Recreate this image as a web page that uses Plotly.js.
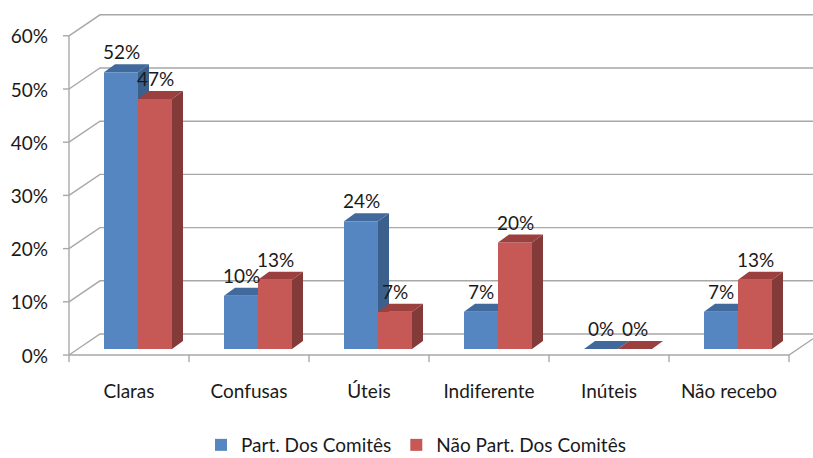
<!DOCTYPE html>
<html><head><meta charset="utf-8">
<script src="https://cdn.plot.ly/plotly-3.0.1.min.js"></script>
<style>html,body{margin:0;padding:0;background:#fff}#chart{width:813px;height:458px}</style>
</head><body><div id="chart"></div>
<script>
// ---- data ----
const categories = ['Claras', 'Confusas', 'Úteis', 'Indiferente', 'Inúteis', 'Não recebo'];
const seriesNames = ['Part. Dos Comitês', 'Não Part. Dos Comitês'];
const partValues = [0.52, 0.10, 0.24, 0.07, 0.00, 0.07];
const naoPartValues = [0.47, 0.13, 0.07, 0.20, 0.00, 0.13];
const yTickVals = [0, 0.1, 0.2, 0.3, 0.4, 0.5, 0.6];
const yTickText = ['0%', '10%', '20%', '30%', '40%', '50%', '60%'];

// ---- geometry (pixel -> data unit conversion) ----
const W = 813, H = 458;
const mL = 60, mB = 94;
const pxX = 120;            // px per category
const pxY = 532;            // px per 1.0 (100%)
const x0px = 138;           // pixel of category 0 centre (bar plane)
const y0px = 349;           // pixel of value 0 (bar plane)
const xRange = [(mL - x0px) / pxX, (W - x0px) / pxX];
const yRange = [-((H - mB) - y0px) / pxY, y0px / pxY];
const BW = 34 / pxX;        // bar width
const DX = 11 / pxX, DY = 8 / pxY;    // bar depth
const FX = -9 / pxX, FY = -6 / pxY;   // front plane offset
const BX = 22 / pxX, BY = 15 / pxY;   // back wall offset
const AX = -0.5;                       // left wall position
const FONT = 'Lato, Carlito, sans-serif';
const FS = 19;

const colors = {
  blue: {front: '#5586C2', top: '#42699B', side: '#3C608C'},
  red: {front: '#C65956', top: '#9B403E', side: '#833A38'}
};
const gridColor = '#A8A8A8';

function path(pts) { return 'M' + pts.map(p => p[0] + ',' + p[1]).join('L') + 'Z'; }
function line(pts) { return 'M' + pts.map(p => p[0] + ',' + p[1]).join('L'); }

const shapes = [];
// back wall gridlines with diagonal side wall lines
yTickVals.forEach(v => {
  shapes.push({type: 'path', xref: 'x', yref: 'y', layer: 'below',
    path: line([[AX + FX, v + FY], [AX + BX, v + BY], [xRange[1] + 1, v + BY]]),
    line: {color: gridColor, width: 1.4}});
  // y tick marks
  shapes.push({type: 'path', xref: 'x', yref: 'y', layer: 'below',
    path: line([[AX + FX - 6 / pxX, v + FY], [AX + FX, v + FY]]),
    line: {color: gridColor, width: 1.4}});
});
// front vertical axis
shapes.push({type: 'path', xref: 'x', yref: 'y', layer: 'below',
  path: line([[AX + FX, FY], [AX + FX, yTickVals[yTickVals.length - 1] + FY]]),
  line: {color: gridColor, width: 1.4}});
// floor front edge and right edge
const nC = categories.length;
shapes.push({type: 'path', xref: 'x', yref: 'y', layer: 'below',
  path: line([[AX + FX, FY], [AX + nC + FX, FY], [AX + nC + BX, BY]]),
  line: {color: gridColor, width: 1.4}});
for (let k = 0; k <= nC; k++) {
  shapes.push({type: 'path', xref: 'x', yref: 'y', layer: 'below',
    path: line([[AX + k + FX, FY], [AX + k + FX, FY - 7 / pxY]]),
    line: {color: gridColor, width: 1.4}});
}

// 3D faces
function faces(vals, sideOff, c, layer) {
  vals.forEach((v, i) => {
    const xa = i + sideOff, xb = xa + BW;
    shapes.push({type: 'path', xref: 'x', yref: 'y', layer: layer,
      path: path([[xb, 0], [xb, v], [xb + DX, v + DY], [xb + DX, DY]]),
      fillcolor: c.side, line: {width: 0}});
    shapes.push({type: 'path', xref: 'x', yref: 'y', layer: layer,
      path: path([[xa, v], [xb, v], [xb + DX, v + DY], [xa + DX, v + DY]]),
      fillcolor: c.top, line: {width: 0}});
  });
}
faces(partValues, -BW, colors.blue, 'below');
faces(naoPartValues, 0, colors.red, 'above');

// value labels
const annotations = [];
function labels(vals, off) {
  vals.forEach((v, i) => {
    annotations.push({x: i + off, y: v, xref: 'x', yref: 'y', text: Math.round(v * 100) + '%',
      showarrow: false, yanchor: 'bottom', yshift: 7,
      font: {family: FONT, size: FS, color: '#1a1a1a'}});
  });
}
labels(partValues, -BW / 2);
labels(naoPartValues, BW / 2);

const traces = [
  {type: 'bar', name: seriesNames[0], x: categories, y: partValues,
   marker: {color: colors.blue.front, line: {width: 0}}, hoverinfo: 'skip'},
  {type: 'bar', name: seriesNames[1], x: categories, y: naoPartValues,
   marker: {color: colors.red.front, line: {width: 0}}, hoverinfo: 'skip'}
];

const layout = {
  width: W, height: H,
  margin: {l: mL, r: 0, t: 0, b: mB, pad: 0},
  paper_bgcolor: '#fff', plot_bgcolor: 'rgba(0,0,0,0)',
  barmode: 'group', bargap: 1 - 2 * BW, bargroupgap: 0,
  font: {family: FONT, size: FS, color: '#1a1a1a'},
  xaxis: {type: 'category', range: xRange, showgrid: false, zeroline: false, showline: false,
    ticks: '', ticklabelshift: -9, ticklabelstandoff: 14, tickfont: {size: FS}},
  yaxis: {range: yRange, tickvals: yTickVals, ticktext: yTickText, showgrid: false, zeroline: false,
    showline: false, ticks: '', ticklabelshift: 7, ticklabelstandoff: 11, tickfont: {size: FS}},
  showlegend: true,
  legend: {orientation: 'h', xref: 'container', yref: 'container', x: 416 / W, xanchor: 'center',
    y: (H - 445) / H, yanchor: 'middle', font: {size: FS}, itemclick: false},
  shapes: shapes,
  annotations: annotations
};

Plotly.newPlot('chart', traces, layout, {staticPlot: true, displayModeBar: false});
</script></body></html>
